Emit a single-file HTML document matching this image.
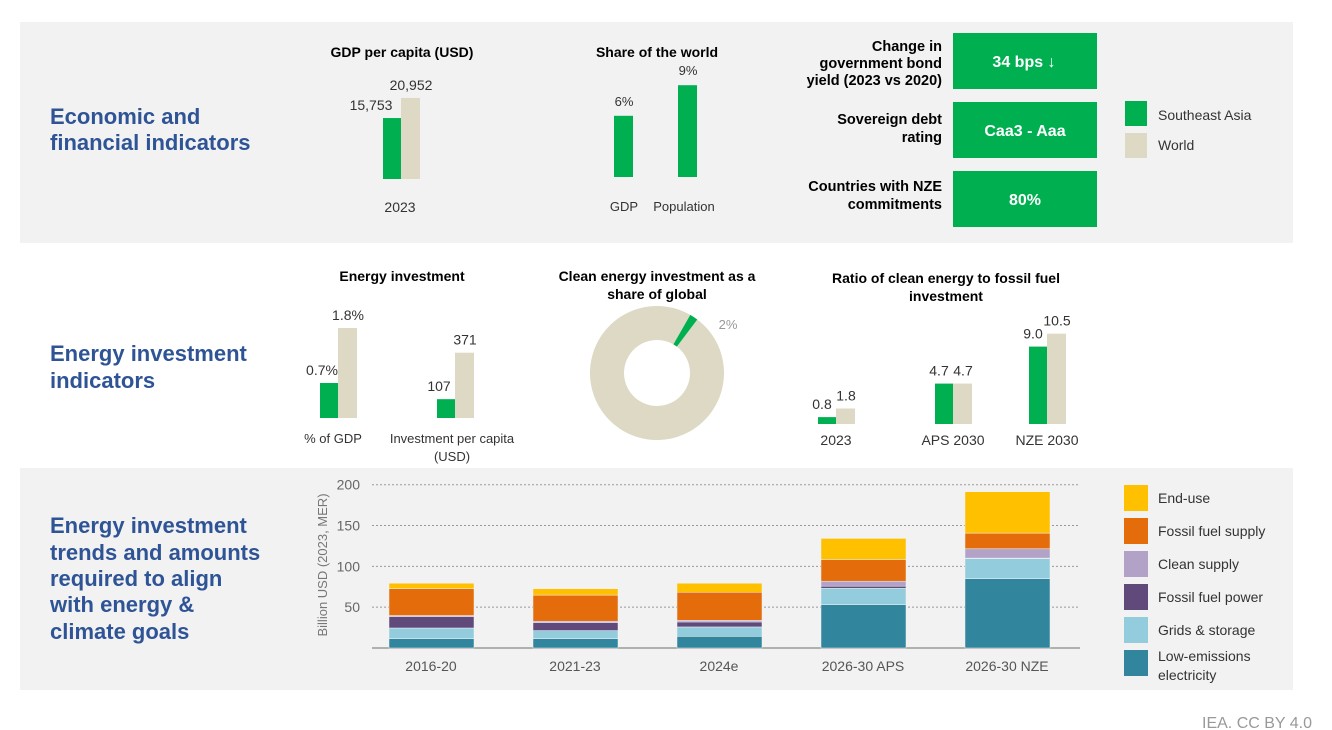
<!DOCTYPE html>
<html><head><meta charset="utf-8"><style>
body{margin:0;width:1332px;height:730px;background:#fff;font-family:"Liberation Sans",sans-serif;overflow:hidden}
svg{position:absolute;left:0;top:0}
text{font-family:"Liberation Sans",sans-serif}
</style></head><body>
<svg id="s" width="1332" height="730">
<rect x="20" y="22" width="1273" height="221" fill="#f2f2f2"/>
<rect x="20" y="468" width="1273" height="222" fill="#f2f2f2"/>
<g font-weight="bold" font-size="22" fill="#2f5496">
<text x="50" y="124">Economic and</text><text x="50" y="150">financial indicators</text>
<text x="50" y="361">Energy investment</text><text x="50" y="388">indicators</text>
<text x="50" y="533">Energy investment</text><text x="50" y="560">trends and amounts</text><text x="50" y="586">required to align</text><text x="50" y="612">with energy &amp;</text><text x="50" y="639">climate goals</text>
</g>
<g font-size="14" font-weight="bold" fill="#000" text-anchor="middle">
<text x="402" y="57">GDP per capita (USD)</text>
<text x="657" y="57">Share of the world</text>
<text x="402" y="281">Energy investment</text>
<text x="657" y="281">Clean energy investment as a</text><text x="657" y="299">share of global</text>
<text x="946" y="283">Ratio of clean energy to fossil fuel</text><text x="946" y="301">investment</text>
</g>
<g font-size="14.5" font-weight="bold" text-anchor="end" fill="#000">
<text x="942" y="51">Change in</text><text x="942" y="68">government bond</text><text x="942" y="85">yield (2023 vs 2020)</text>
<text x="942" y="124">Sovereign debt</text><text x="942" y="142">rating</text>
<text x="942" y="191">Countries with NZE</text><text x="942" y="209">commitments</text>
</g>
<g>
<rect x="953" y="33" width="144" height="56" fill="#00b050"/>
<rect x="953" y="102" width="144" height="56" fill="#00b050"/>
<rect x="953" y="171" width="144" height="56" fill="#00b050"/>
<g fill="#fff" font-weight="bold" font-size="16" text-anchor="middle">
<text x="1024" y="67">34 bps ↓</text><text x="1025" y="136">Caa3 - Aaa</text><text x="1025" y="205">80%</text></g>
</g>
<g font-size="14" fill="#333">
<rect x="1125" y="101" width="22" height="25" fill="#00b050"/><text x="1158" y="120">Southeast Asia</text>
<rect x="1125" y="133" width="22" height="25" fill="#ddd9c4"/><text x="1158" y="150">World</text>
</g>
<g id="g1"></g>
<g id="donut"></g>
<g id="stack"></g>
<text x="1312" y="728" text-anchor="end" font-size="16" fill="#999">IEA. CC BY 4.0</text>
</svg>
<script>
const ns="http://www.w3.org/2000/svg";
const GREEN="#00b050",BEIGE="#ddd9c4";
const gdpLabels=["2023"];const gdpSEA=[15753];const gdpWorld=[20952];
const shareCats=["GDP","Population"];const shareVals=[6,9];
const invCats=["% of GDP","Investment per capita"];const invSEA=[0.7,107];const invWorld=[1.8,371];
const invSEALabels=["0.7%","107"];const invWorldLabels=["1.8%","371"];
const ratioCats=["2023","APS 2030","NZE 2030"];const ratioSEA=[0.8,4.7,9.0];const ratioWorld=[1.8,4.7,10.5];
const donutShare=[2];
const periods=["2016-20","2021-23","2024e","2026-30 APS","2026-30 NZE"];
const lowEmis=[11.5,11.5,14.3,53.2,85];
const grids=[13,9.8,11.5,20,24.6];
const fossilPower=[14,9.8,6.1,2.5,0.5];
const cleanSupply=[1.3,1.7,2,6.1,11.4];
const fossilSupply=[33,32,34.4,26.6,19.2];
const endUse=[6.5,7.8,11,25.8,50.7];
const yTicks=[50,100,150,200];
function el(tag,attrs,parent){const e=document.createElementNS(ns,tag);for(const k in attrs)e.setAttribute(k,attrs[k]);parent.appendChild(e);return e;}
function txt(x,y,s,parent,extra){const t=el("text",Object.assign({x:x,y:y,"font-size":14,fill:"#333","text-anchor":"middle"},extra||{}),parent);t.textContent=s;return t;}
const g1=document.getElementById("g1");
function pair(xc,base,hS,hW,ls,lw,parent,name,off){
  const a=el("rect",{x:xc-18,y:base-hS,width:18,height:hS,fill:GREEN},parent);
  
  
  const b=el("rect",{x:xc,y:base-hW,width:19,height:hW,fill:BEIGE},parent);
  
  
  txt(xc-(off||14),base-hS-8,ls,parent);txt(xc+10,base-hW-8,lw,parent);
}
const gy=v=>v*0.00387;
gdpLabels.forEach((c,i)=>{pair(401,179,gy(gdpSEA[i]),gy(gdpWorld[i]),gdpSEA[i].toLocaleString("en-US"),gdpWorld[i].toLocaleString("en-US"),g1,"gdp-bar",30);txt(400,212,c,g1);});
const shX=[624,688];
shareCats.forEach((c,i)=>{const h=shareVals[i]*10.2;const r=el("rect",{x:shX[i]-10,y:177-h,width:19,height:h,fill:GREEN},g1);


txt(shX[i],177-h-10,shareVals[i]+"%",g1,{"font-size":13});txt(c=="GDP"?624:684,211,c,g1,{"font-size":13});});
const invScale=[50,0.176];const invX=[338,455];
invCats.forEach((c,i)=>{pair(invX[i],418,invSEA[i]*invScale[i],invWorld[i]*invScale[i],invSEALabels[i],invWorldLabels[i],g1,"energy-inv-bar",16);});
txt(333,443,"% of GDP",g1,{"font-size":13});txt(452,443,"Investment per capita",g1,{"font-size":13});txt(452,461,"(USD)",g1,{"font-size":13});
const rX=[836,953,1047];
ratioCats.forEach((c,i)=>{pair(rX[i],424,ratioSEA[i]*8.6,ratioWorld[i]*8.6,ratioSEA[i].toFixed(1),ratioWorld[i].toFixed(1),g1,"ratio-bar");txt(rX[i],445,c,g1);});
const dg=document.getElementById("donut");const cx=657,cy=373,R=67,r0=33;
function arc(a0,a1,fill,name){const p=(a,rr)=>[cx+rr*Math.sin(a),cy-rr*Math.cos(a)];
 const [x0,y0]=p(a0,R),[x1,y1]=p(a1,R),[x2,y2]=p(a1,r0),[x3,y3]=p(a0,r0);const lg=(a1-a0)>Math.PI?1:0;
 const e=el("path",{d:`M${x0},${y0}A${R},${R} 0 ${lg} 1 ${x1},${y1}L${x2},${y2}A${r0},${r0} 0 ${lg} 0 ${x3},${y3}Z`,fill:fill},dg);
 
 }
const st=0.52,sw=donutShare[0]/100*2*Math.PI;
arc(st+sw,st+2*Math.PI-0.0001,BEIGE,"donut-rest-of-world");arc(st,st+sw,GREEN,"donut-sea-slice");
txt(728,329,donutShare[0]+"%",dg,{fill:"#999",'font-size':13});
const sg=document.getElementById("stack");
const X0=359,band=144,y0=648,k=0.8165;
const yS=v=>y0-v*k;
yTicks.forEach(t=>{const l=el("line",{x1:372,x2:1080,y1:yS(t),y2:yS(t),stroke:"#999","stroke-dasharray":"2,2","stroke-width":1},sg);


txt(360,yS(t)+5,String(t),sg,{"text-anchor":"end","fill":"#666"});});
const ax=el("line",{x1:372,x2:1080,y1:y0,y2:y0,stroke:"#999","stroke-width":1.5},sg);


const yl=txt(0,0,"Billion USD (2023, MER)",sg,{fill:"#777",transform:"translate(327,565) rotate(-90)","font-size":13});

const series=[[lowEmis,"#31859c","low-emissions"],[grids,"#93cddd","grids"],[fossilPower,"#604a7b","fossil-power"],[cleanSupply,"#b3a2c7","clean-supply"],[fossilSupply,"#e46c0a","fossil-supply"],[endUse,"#ffc000","end-use"]];
periods.forEach((p,i)=>{const xc=X0+band*(i+0.5);let cum=0;
 series.forEach(([arr,col,nm])=>{const v=arr[i];const r=el("rect",{x:xc-42,y:yS(cum+v),width:85,height:v*k,fill:col,stroke:"#f2f2f2","stroke-width":0.5},sg);
 
 cum+=v;});
 txt(xc,671,p,sg,{fill:"#555"});});
const leg=[["End-use","#ffc000"],["Fossil fuel supply","#e46c0a"],["Clean supply","#b3a2c7"],["Fossil fuel power","#604a7b"],["Grids & storage","#93cddd"],["Low-emissions","#31859c"]];
leg.forEach(([n,c],i)=>{const y=485+i*33;const r=el("rect",{x:1124,y:y,width:24,height:26,fill:c},sg);


txt(1158,i==5?y+11:y+18,n,sg,{"text-anchor":"start"});});
txt(1158,680,"electricity",sg,{"text-anchor":"start"});
</script>
</body></html>
